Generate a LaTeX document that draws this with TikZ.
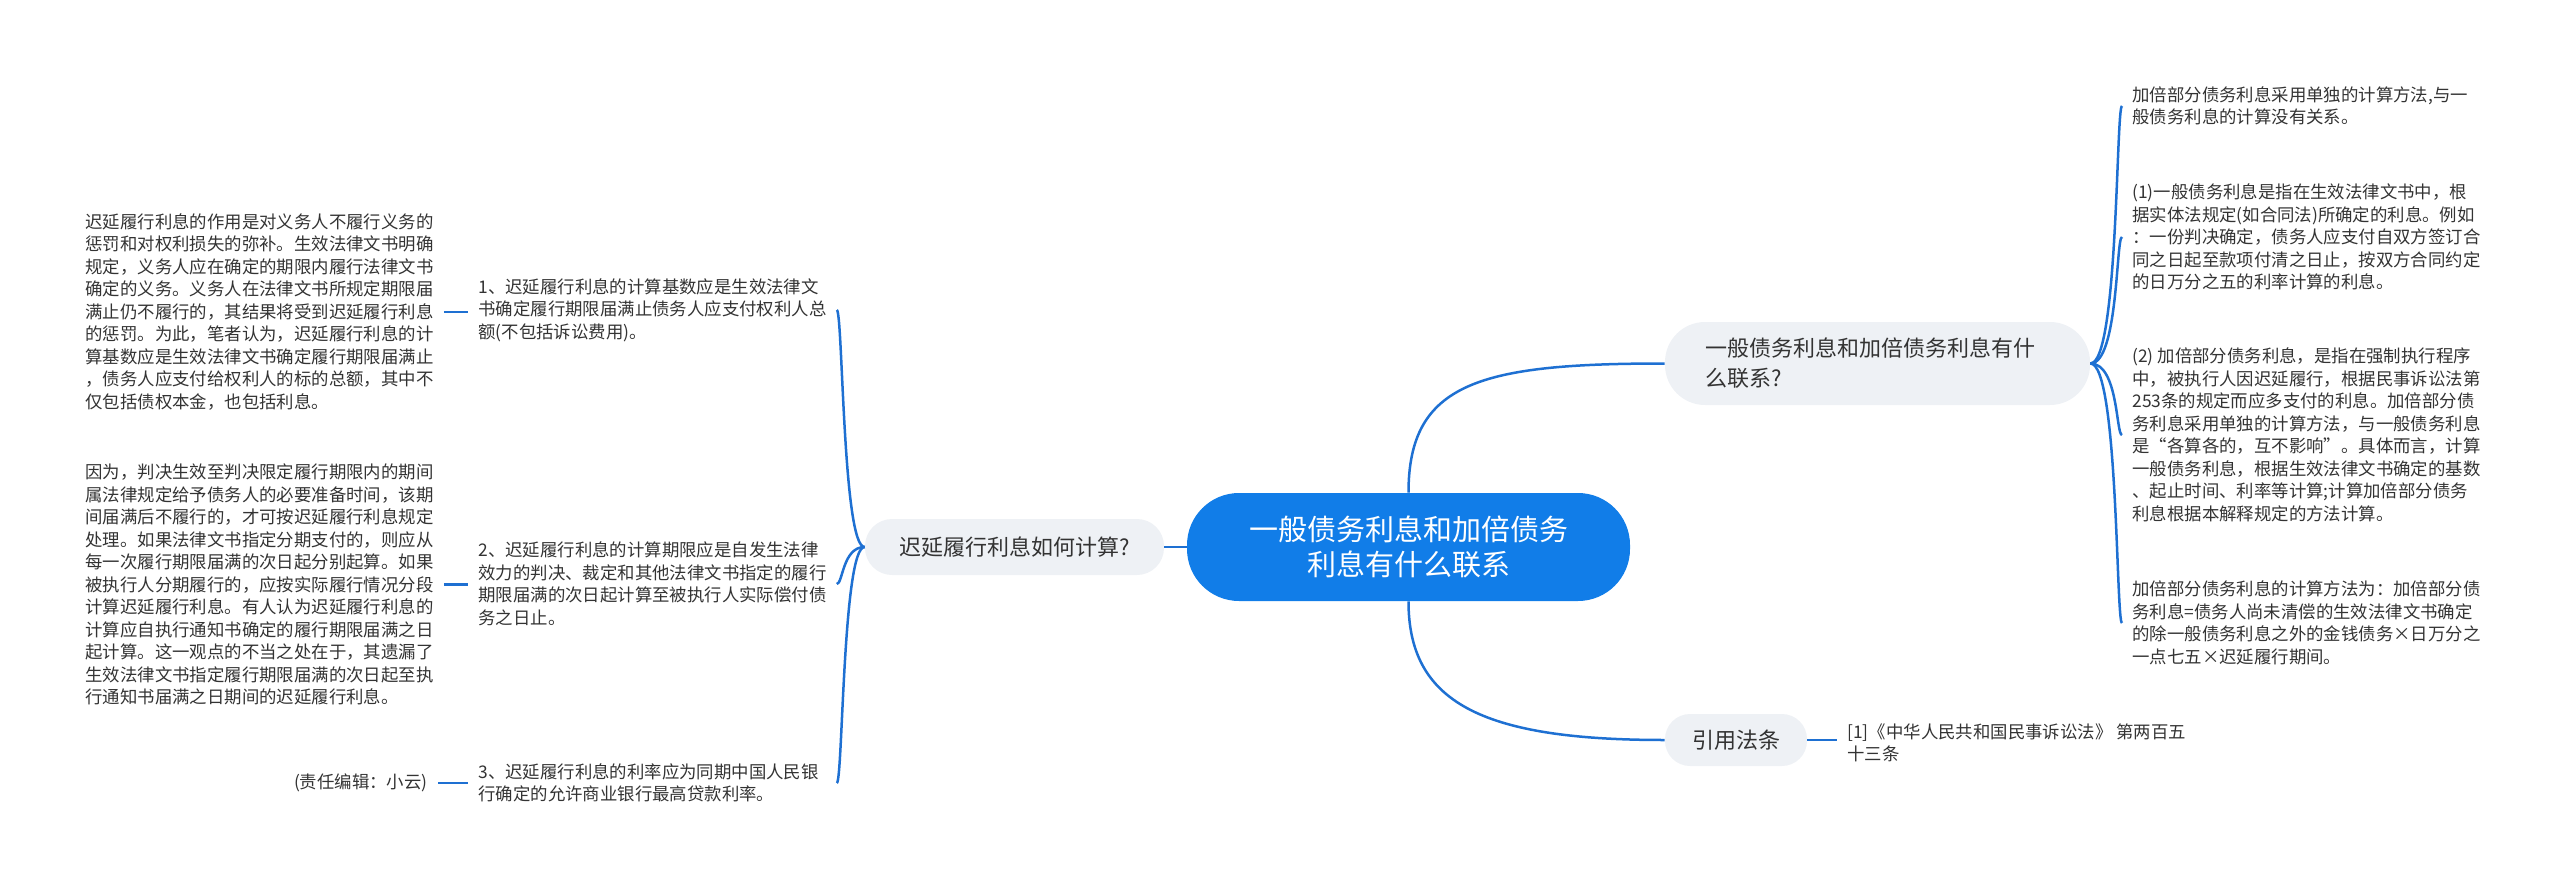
\documentclass[tikz,border=0pt]{standalone}
\usepackage{fontspec}
\setmainfont{Noto Sans CJK SC}
\usetikzlibrary{calc}
\definecolor{cblue}{RGB}{17,125,232}
\definecolor{lblue}{RGB}{30,112,210}
\definecolor{gfill}{RGB}{238,241,245}
\definecolor{txt}{RGB}{51,51,51}
\begin{document}
\begin{tikzpicture}[x=0.5pt,y=-0.5pt,
 leaf/.style={font=\fontsize{8.7pt}{11.25pt}\selectfont, text=txt, align=left, inner xsep=5pt, inner ysep=0pt, anchor=west},
 sub/.style={leaf, text width=174pt},
 branch/.style={fill=gfill, text=txt, font=\fontsize{11pt}{15pt}\selectfont},
 conn/.style={draw=lblue, line width=1.25pt},
 ]
\useasboundingbox (0,0) rectangle (2560,888);
% central topic
\node[fill=cblue, text=white, rounded corners=26pt, minimum width=221.5pt, minimum height=54pt, align=center, font=\fontsize{14.5pt}{17.5pt}\selectfont, inner sep=0pt] (c) at (1408.5,547) {一般债务利息和加倍债务\\利息有什么联系};
% branches
\node[branch, rounded corners=20pt, minimum width=212.5pt, minimum height=41.5pt, text width=172.5pt, align=left, inner xsep=20pt, inner ysep=0pt] (rb) at (1877.5,363.5) {一般债务利息和加倍债务利息有什\\么联系?};
\node[branch, rounded corners=13.5pt, minimum width=149.5pt, minimum height=28pt, inner sep=0pt] (lb) at (1014.5,547) {迟延履行利息如何计算?};
\node[branch, rounded corners=12.5pt, minimum width=71pt, minimum height=26pt, inner sep=0pt] (rf) at (1736,740) {引用法条};
% left sub nodes
\node[sub] (n1) at (468,310) {1、迟延履行利息的计算基数应是生效法律文\\书确定履行期限届满止债务人应支付权利人总\\额(不包括诉讼费用)。};
\node[sub] (n2) at (468,584) {2、迟延履行利息的计算期限应是自发生法律\\效力的判决、裁定和其他法律文书指定的履行\\期限届满的次日起计算至被执行人实际偿付债\\务之日止。};
\node[sub] (n3) at (468,783) {3、迟延履行利息的利率应为同期中国人民银\\行确定的允许商业银行最高贷款利率。};
% left leaves
\node[leaf] (la) at (75,312) {迟延履行利息的作用是对义务人不履行义务的\\惩罚和对权利损失的弥补。生效法律文书明确\\规定，义务人应在确定的期限内履行法律文书\\确定的义务。义务人在法律文书所规定期限届\\满止仍不履行的，其结果将受到迟延履行利息\\的惩罚。为此，笔者认为，迟延履行利息的计\\算基数应是生效法律文书确定履行期限届满止\\，债务人应支付给权利人的标的总额，其中不\\仅包括债权本金，也包括利息。};
\node[leaf] (lbb) at (75,584.5) {因为，判决生效至判决限定履行期限内的期间\\属法律规定给予债务人的必要准备时间，该期\\间届满后不履行的，才可按迟延履行利息规定\\处理。如果法律文书指定分期支付的，则应从\\每一次履行期限届满的次日起分别起算。如果\\被执行人分期履行的，应按实际履行情况分段\\计算迟延履行利息。有人认为迟延履行利息的\\计算应自执行通知书确定的履行期限届满之日\\起计算。这一观点的不当之处在于，其遗漏了\\生效法律文书指定履行期限届满的次日起至执\\行通知书届满之日期间的迟延履行利息。};
\node[leaf, anchor=east] (ed) at (438,783) {(责任编辑：小云)};
% right leaves
\node[leaf] (r1) at (2122,106) {加倍部分债务利息采用单独的计算方法,与一\\般债务利息的计算没有关系。};
\node[leaf] (r2) at (2122,237) {(1)一般债务利息是指在生效法律文书中，根\\据实体法规定(如合同法)所确定的利息。例如\\：一份判决确定，债务人应支付自双方签订合\\同之日起至款项付清之日止，按双方合同约定\\的日万分之五的利率计算的利息。};
\node[leaf] (r3) at (2122,435) {(2) 加倍部分债务利息，是指在强制执行程序\\中，被执行人因迟延履行，根据民事诉讼法第\\253条的规定而应多支付的利息。加倍部分债\\务利息采用单独的计算方法，与一般债务利息\\是“各算各的，互不影响”。具体而言，计算\\一般债务利息，根据生效法律文书确定的基数\\、起止时间、利率等计算;计算加倍部分债务\\利息根据本解释规定的方法计算。};
\node[leaf] (r4) at (2122,623) {加倍部分债务利息的计算方法为：加倍部分债\\务利息=债务人尚未清偿的生效法律文书确定\\的除一般债务利息之外的金钱债务×日万分之\\一点七五×迟延履行期间。};
\node[leaf] (rl) at (1837,743) {[1]《中华人民共和国民事诉讼法》 第两百五\\十三条};
% connectors
\draw[conn] (c.west) -- (lb.east);
\draw[conn] (c.north) .. controls ($(c.north)+(0,-110)$) and ($(rb.west)+(-185,0)$) .. (rb.west);
\draw[conn] (c.south) .. controls ($(c.south)+(0,100)$) and ($(rf.west)+(-185,0)$) .. (rf.west);
\draw[conn] (rf.east) -- (rf.east -| rl.west);
\foreach \l in {r1,r2,r3,r4}
  \draw[conn] (rb.east) .. controls ($(rb.east)+(28,0)$) and ($(\l.west)+(-6,0)$) .. (\l.west);
\foreach \n in {n1,n2,n3}
  \draw[conn] (lb.west) .. controls ($(lb.west)+(-22,0)$) and ($(\n.east)+(6,0)$) .. (\n.east);
\draw[conn] (la.east) -- (la.east -| n1.west);
\draw[conn] (lbb.east) -- (lbb.east -| n2.west);
\draw[conn] (ed.east) -- (n3.west);
\end{tikzpicture}
\end{document}
